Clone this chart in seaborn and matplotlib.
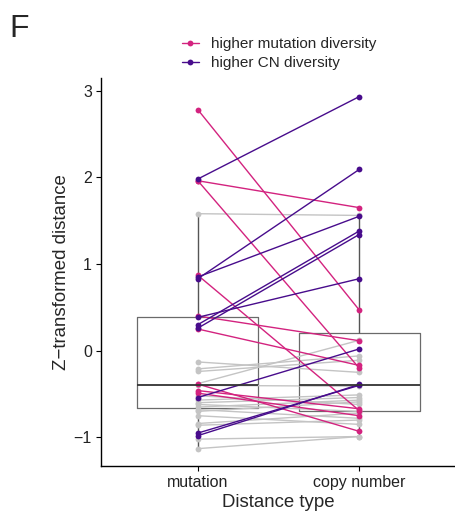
import numpy as np
import pandas as pd
import matplotlib
matplotlib.use("Agg")
import matplotlib.pyplot as plt
import seaborn as sns

# ---- data ----
types = ["mutation", "copy number"]
groups = ["not significant", "higher mutation diversity", "higher CN diversity"]

mut_pink = [2.78, 1.96, 1.96, 0.87, 0.40, 0.25, -0.385, -0.46, -0.49]
cn_pink = [0.47, 1.65, -0.20, -0.69, 0.115, -0.17, -0.93, -0.67, -0.75]

mut_purple = [1.98, 0.85, 0.83, 0.385, 0.30, 0.26, -0.54, -0.95, -0.98]
cn_purple = [2.93, 1.55, 2.09, 0.83, 1.38, 1.34, 0.02, -0.40, -0.39]

mut_gray = [1.58, -0.13, -0.21, -0.24, -0.38, -0.57, -0.60, -0.65, -0.70,
            -0.84, -0.86, -1.02, -1.13, -0.40, -0.75, -0.68, -0.62, -0.52]
cn_gray = [1.56, -0.25, -0.06, -0.11, 0.12, -0.51, -0.54, -0.57, -0.59,
           -0.72, -0.80, -0.99, -0.99, -0.41, -0.85, -0.78, -0.70, -0.62]

series = {
    groups[0]: (mut_gray, cn_gray),
    groups[1]: (mut_pink, cn_pink),
    groups[2]: (mut_purple, cn_purple),
}

rows = []
pid = 0
for g, (mv, cv) in series.items():
    for a, b in zip(mv, cv):
        rows.append({"pair": pid, "type": types[0], "value": a, "group": g})
        rows.append({"pair": pid, "type": types[1], "value": b, "group": g})
        pid += 1
df = pd.DataFrame(rows)

palette = {groups[0]: "#c4c4c4", groups[1]: "#d3237f", groups[2]: "#480c8c"}

sns.set_style("ticks")
plt.rcParams["font.family"] = ["Liberation Sans", "DejaVu Sans"]

fig = plt.figure(figsize=(4.56, 5.15), dpi=100)
ax = fig.add_axes([101 / 456, 49 / 515, 1 - 101 / 456, (466 - 78) / 515])

sns.boxplot(data=df, x="type", y="value", order=types, width=0.75,
            showfliers=False, fill=False, color="#6a6a6a", linewidth=0.9,
            medianprops=dict(color="#333333", linewidth=1.3),
            whiskerprops=dict(color="#555555", linewidth=1.0),
            showcaps=False, ax=ax)

sns.lineplot(data=df, x="type", y="value", units="pair", estimator=None,
             hue="group", hue_order=groups, palette=palette, marker="o",
             markersize=4.2, markeredgewidth=0, linewidth=1.0, sort=False,
             ax=ax, legend=True)

ax.set_xlim(-0.6, 1.6)
ax.set_ylim(-1.33, 3.145)
ax.set_yticks([-1, 0, 1, 2, 3])
ax.set_yticklabels(["\u22121", "0", "1", "2", "3"])
for s in ["top", "right"]:
    ax.spines[s].set_visible(False)
for s in ["left", "bottom"]:
    ax.spines[s].set_linewidth(1.0)
    ax.spines[s].set_color("black")
ax.tick_params(axis="both", length=3.5, width=0.8, color="black",
               labelsize=11.5, labelcolor="#222222", pad=3)
ax.set_xlabel("Distance type", fontsize=13.4, labelpad=3)
ax.set_ylabel("Z\u2212transformed distance", fontsize=13.4, labelpad=3)

handles, labels = ax.get_legend_handles_labels()
keep = [(h, l) for h, l in zip(handles, labels) if l in groups[1:]]
ax.legend([k[0] for k in keep], [k[1] for k in keep],
          loc="upper left", bbox_to_anchor=(182 / 456, 1 - 37 / 515),
          bbox_transform=fig.transFigure, frameon=False, fontsize=11,
          handlelength=1.1, handletextpad=0.8, labelspacing=0.35,
          borderpad=0, borderaxespad=0)

fig.text(9 / 456, 1 - 37 / 515, "F", fontsize=23, ha="left", va="baseline")

fig.savefig("out.png", dpi=100)
